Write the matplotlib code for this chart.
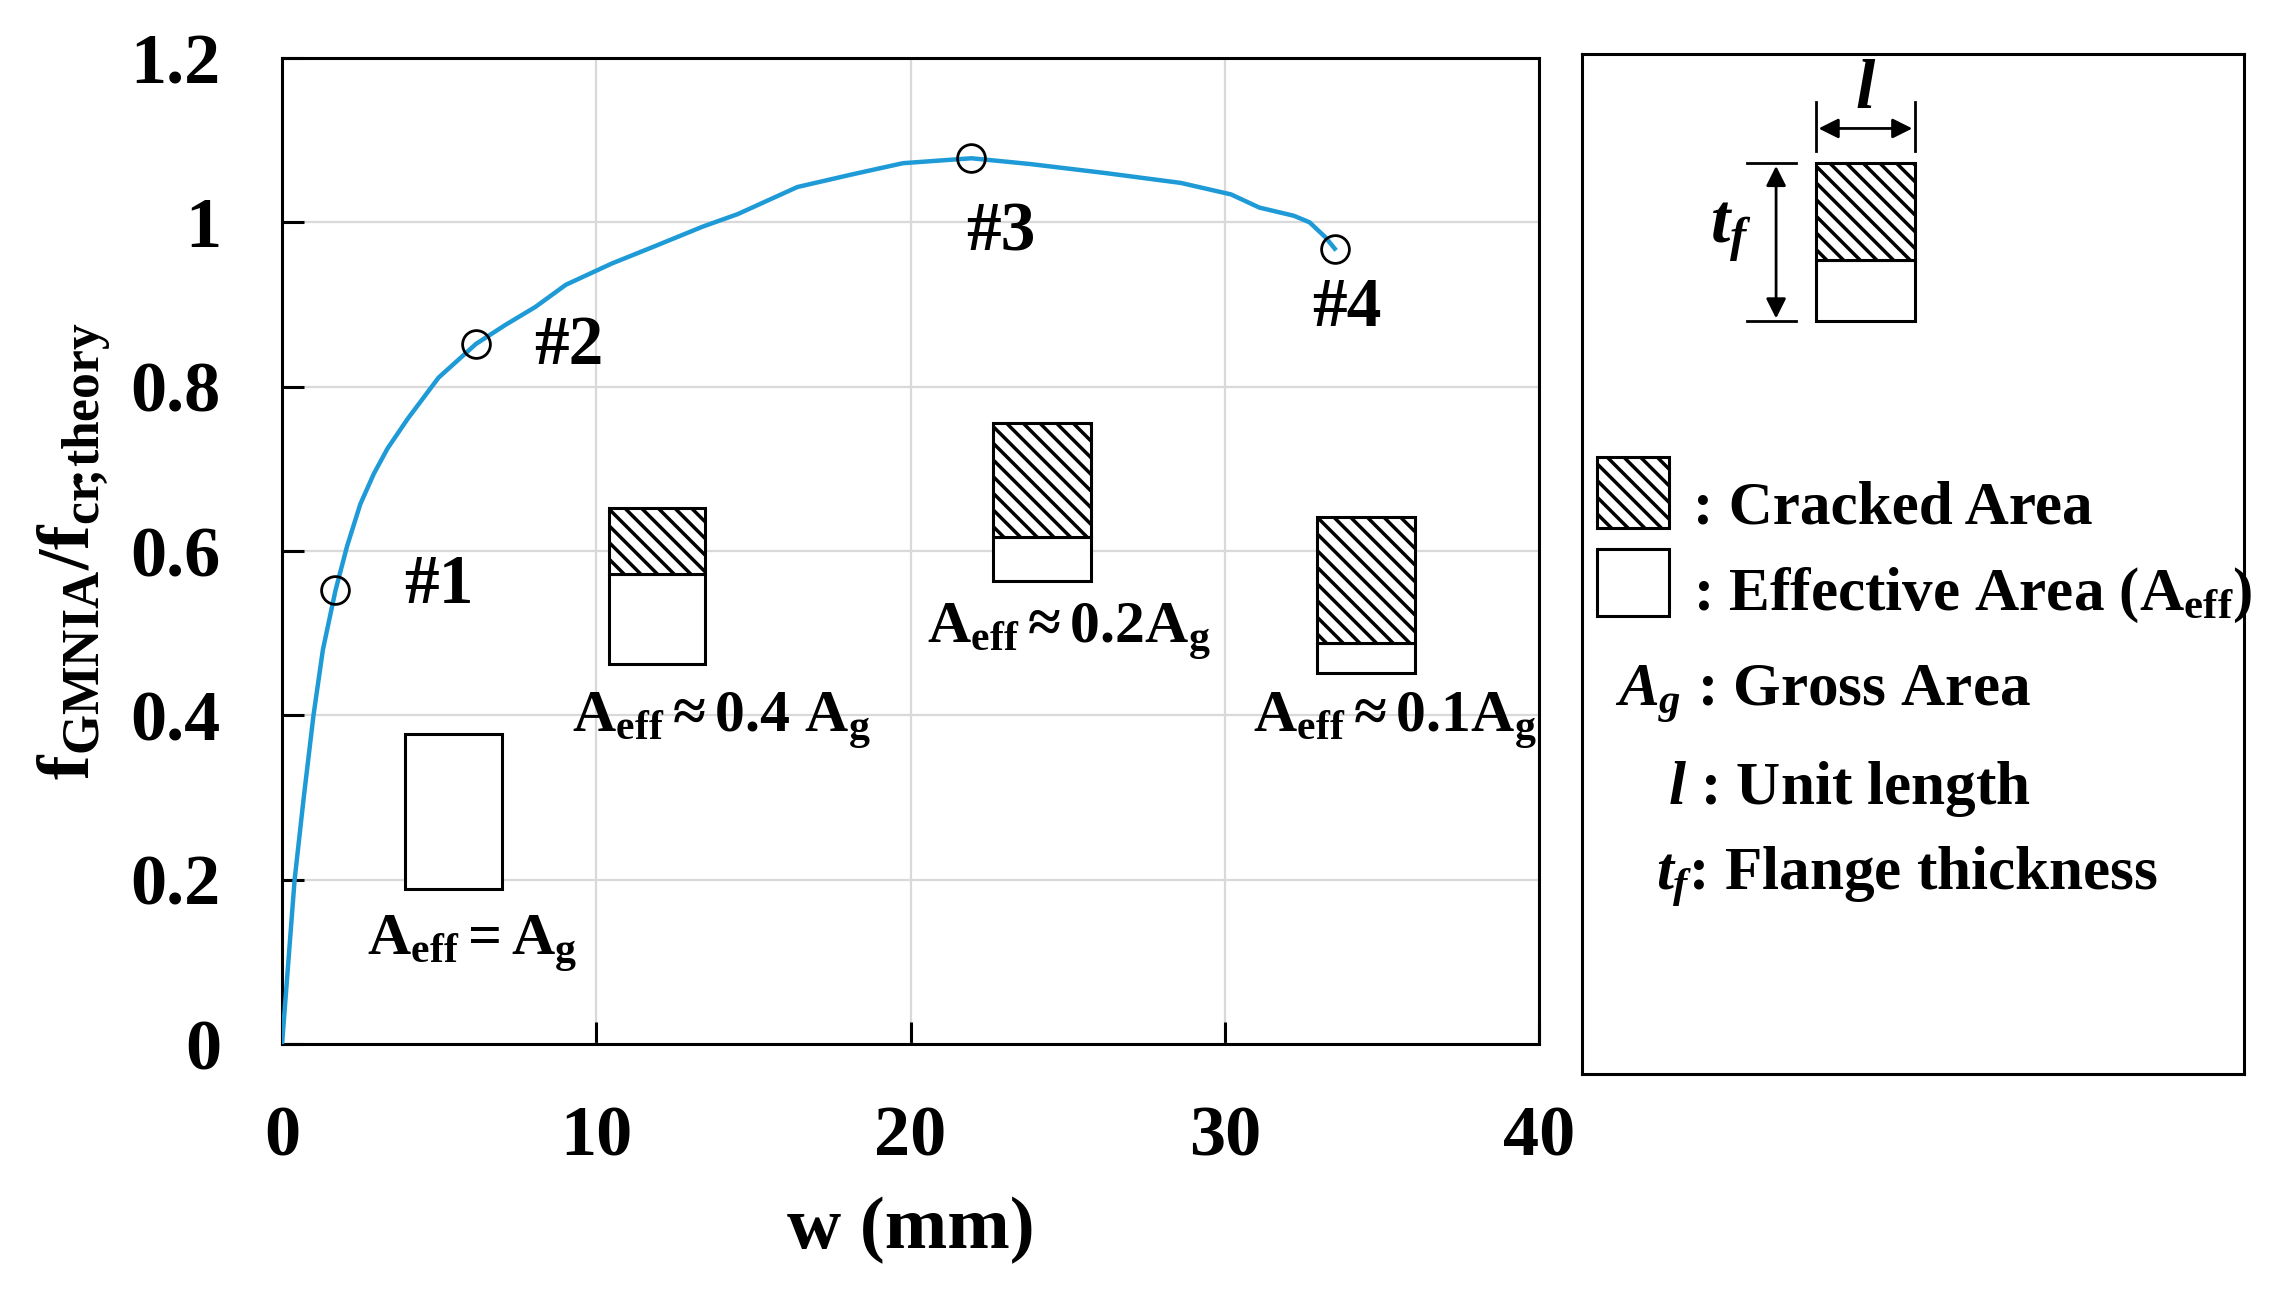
import matplotlib
matplotlib.use("Agg")
import matplotlib.pyplot as plt
from matplotlib.patches import Rectangle

# curve
w_mm = [0, 0.2, 0.4, 0.69, 1.0, 1.3, 1.70, 2.07, 2.49, 2.92, 3.36,
        4.0, 4.98, 6.17, 7.1, 8.06, 9.03, 10.5, 11.8, 13.4, 14.5, 16.4, 18.1, 19.76,
        21.94, 23.8, 26.2, 28.6, 30.2, 31.1, 32.2, 32.7, 33.2, 33.5]
ratio = [0, 0.10, 0.20, 0.30, 0.40, 0.48, 0.552, 0.606, 0.657, 0.694, 0.725,
         0.761, 0.811, 0.852, 0.875, 0.897, 0.924, 0.950, 0.970, 0.995, 1.010, 1.043, 1.058, 1.072,
         1.078, 1.071, 1.060, 1.048, 1.034, 1.018, 1.008, 1.0, 0.982, 0.968]

# selected stages
stage_w = [1.7, 6.17, 21.94, 33.5]
stage_r = [0.552, 0.852, 1.078, 0.968]
stage_names = ['#1', '#2', '#3', '#4']

x_ticks = [0, 10, 20, 30, 40]
x_tick_labels = ['0', '10', '20', '30', '40']
y_ticks = [0, 0.2, 0.4, 0.6, 0.8, 1.0, 1.2]
y_tick_labels = ['0', '0.2', '0.4', '0.6', '0.8', '1', '1.2']

aeff_texts = [r'$\mathrm{A_{eff}=A_g}$',
              r'$\mathrm{A_{eff}\approx 0.4\ A_g}$',
              r'$\mathrm{A_{eff}\approx 0.2A_g}$',
              r'$\mathrm{A_{eff}\approx 0.1A_g}$']

# layout of the schematic sections (x0, x1, bottom, divider, top) in data units
section_boxes = [(3.9, 7.0, 0.189, 0.377, 0.377),
                 (10.4, 13.45, 0.462, 0.572, 0.652),
                 (22.63, 25.73, 0.563, 0.617, 0.756),
                 (32.92, 36.04, 0.451, 0.488, 0.641)]
section_text_pos = [(6.06, 0.122), (13.98, 0.393), (25.05, 0.502), (35.4, 0.393)]
stage_text_pos = [(5.0, 0.557), (9.12, 0.848), (22.87, 0.986), (33.9, 0.895)]

plt.rcParams['font.family'] = 'Liberation Serif'
plt.rcParams['font.weight'] = 'bold'
plt.rcParams['axes.labelweight'] = 'bold'
plt.rcParams['mathtext.fontset'] = 'custom'
plt.rcParams['mathtext.rm'] = 'Liberation Serif:bold'
plt.rcParams['mathtext.bf'] = 'Liberation Serif:bold'
plt.rcParams['mathtext.it'] = 'Liberation Serif:italic:bold'
plt.rcParams['hatch.linewidth'] = 2.5

fig = plt.figure(figsize=(22.82, 12.95), dpi=100)
ax = fig.add_axes([0.1236, 0.1938, 0.5508, 0.7614])

ax.grid(True, color='#d9d9d9', linewidth=1.6, zorder=0)
ax.set_axisbelow(True)
ax.plot(w_mm, ratio, color='#1e9bd7', linewidth=3.2, zorder=3)
ax.plot(stage_w, stage_r, linestyle='none', marker='o', markersize=20,
        markerfacecolor='none', markeredgecolor='black', markeredgewidth=2, zorder=4)
for name, (tx, ty) in zip(stage_names, stage_text_pos):
    ax.text(tx, ty, name, fontsize=50, ha='center', va='center')

for (x0, x1, yb, yd, yt), txt, (tx, ty) in zip(section_boxes, aeff_texts, section_text_pos):
    ax.add_patch(Rectangle((x0, yb), x1 - x0, yd - yb, facecolor='white',
                           edgecolor='black', linewidth=2.2, zorder=2))
    if yt > yd:
        ax.add_patch(Rectangle((x0, yd), x1 - x0, yt - yd, facecolor='white',
                               edgecolor='black', hatch='\\\\', linewidth=2.2, zorder=2))
    ax.text(tx, ty, txt, fontsize=43, ha='center', va='center', clip_on=False, zorder=5)

ax.set_xlim(0, 40)
ax.set_ylim(0, 1.2)
ax.set_xticks(x_ticks, labels=x_tick_labels)
ax.set_yticks(y_ticks, labels=y_tick_labels)
ax.tick_params(direction='in', length=16, width=2.2, labelsize=52, pad=44)
for s in ax.spines.values():
    s.set_linewidth(2.2)

ax.set_xlabel('w (mm)', fontsize=54, fontweight='bold')
ax.xaxis.label.set_va('center')
ax.xaxis.set_label_coords(0.5, -0.189)
# semicolon without the extra math spacing
ax.set_ylabel(r'$\mathrm{f_{GMNIA}/f_{cr\!;\!theory}}$', fontsize=53)
ax.yaxis.label.set_va('center')
ax.yaxis.set_label_coords(-0.166, 0.5)

# legend panel
lax = fig.add_axes([0.6933, 0.1707, 0.2901, 0.7876])
lax.set_xlim(0, 1)
lax.set_ylim(0, 1)
lax.set_xticks([])
lax.set_yticks([])
for s in lax.spines.values():
    s.set_linewidth(2.2)

# section sketch with dimensions
lax.add_patch(Rectangle((0.353, 0.738), 0.150, 0.060, facecolor='white',
                        edgecolor='black', linewidth=2.2))
lax.add_patch(Rectangle((0.353, 0.798), 0.150, 0.095, facecolor='white',
                        edgecolor='black', hatch='\\\\', linewidth=2.2))
lax.plot([0.353, 0.353], [0.905, 0.953], color='black', linewidth=2)
lax.plot([0.503, 0.503], [0.905, 0.953], color='black', linewidth=2)
lax.annotate('', xy=(0.353, 0.927), xytext=(0.503, 0.927),
             arrowprops=dict(arrowstyle='<|-|>', color='black', lw=2, mutation_scale=30))
lax.text(0.428, 0.932, r'$l$', fontsize=50, ha='center', va='bottom')
lax.plot([0.249, 0.323], [0.893, 0.893], color='black', linewidth=2)
lax.plot([0.249, 0.323], [0.738, 0.738], color='black', linewidth=2)
lax.annotate('', xy=(0.293, 0.893), xytext=(0.293, 0.738),
             arrowprops=dict(arrowstyle='<|-|>', color='black', lw=2, mutation_scale=30))
lax.text(0.225, 0.825, r'$t_f$', fontsize=50, ha='center', va='center')

# legend swatches and explanations
lax.add_patch(Rectangle((0.023, 0.535), 0.109, 0.070, facecolor='white',
                        edgecolor='black', hatch='\\\\', linewidth=2.2))
lax.add_patch(Rectangle((0.023, 0.449), 0.109, 0.066, facecolor='white',
                        edgecolor='black', linewidth=2.2))
lax.text(0.168, 0.554, ': Cracked Area', fontsize=44, ha='left', va='center')
lax.text(0.168, 0.469, r': Effective Area ($\mathrm{A_{eff}}$)', fontsize=44,
         ha='left', va='center', clip_on=False)
lax.text(0.050, 0.372, r'$A_g$ : Gross Area', fontsize=44, ha='left', va='center')
lax.text(0.130, 0.279, r'$l$ : Unit length', fontsize=44, ha='left', va='center')
lax.text(0.112, 0.193, r'$t_f$: Flange thickness', fontsize=44, ha='left', va='center')

fig.savefig('out.png', dpi=100)
